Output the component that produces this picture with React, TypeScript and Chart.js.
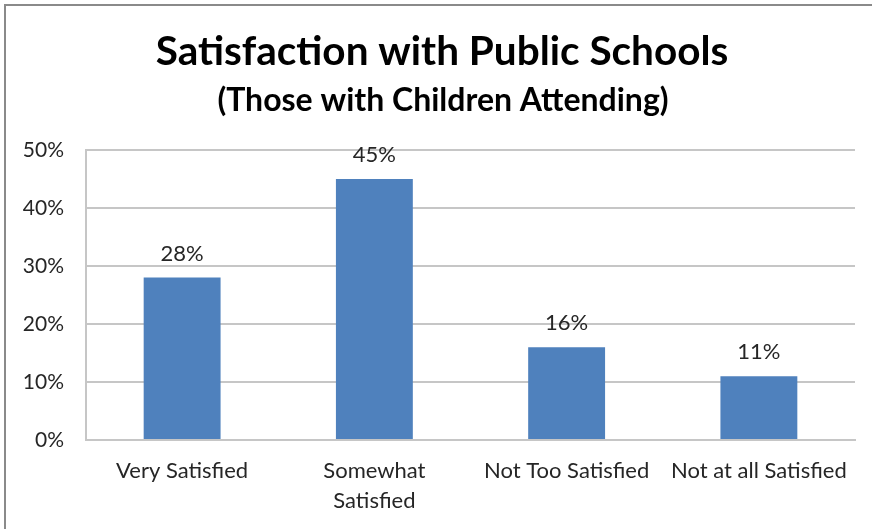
import React, { useEffect, useRef } from "react";
import { Chart, registerables } from "chart.js";

Chart.register(...registerables);

const categories: (string | string[])[] = [
  "Very Satisfied",
  ["Somewhat", "Satisfied"],
  "Not Too Satisfied",
  "Not at all Satisfied",
];
const values = [28, 45, 16, 11];
const yTicks = [0, 10, 20, 30, 40, 50];
const titleText = "Satisfaction with Public Schools";
const subtitleText = "(Those with Children Attending)";

const FONT = "Lato, 'Open Sans', sans-serif";

export default function App() {
  const ref = useRef<HTMLCanvasElement | null>(null);
  useEffect(() => {
    document.body.style.margin = "0";
    const ctx = ref.current!.getContext("2d")!;
    const frame = {
      id: "frame",
      beforeDraw(chart: any) {
        const c = chart.ctx;
        c.save();
        c.fillStyle = "#ffffff";
        c.fillRect(0, 0, chart.width, chart.height);
        c.strokeStyle = "#8a8a8a";
        c.lineWidth = 2;
        c.beginPath();
        c.moveTo(5, chart.height + 5);
        c.lineTo(5, 5);
        c.lineTo(chart.width + 5, 5);
        c.stroke();
        c.fillStyle = "#000000";
        c.textAlign = "center";
        c.textBaseline = "middle";
        c.font = `bold 40.5px ${FONT}`;
        c.fillText(titleText, 442, 52);
        c.font = `bold 32px ${FONT}`;
        c.fillText(subtitleText, 443, 101);
        c.restore();
      },
    };
    const labels = {
      id: "valueLabels",
      afterDatasetsDraw(chart: any) {
        const c = chart.ctx;
        const meta = chart.getDatasetMeta(0);
        c.save();
        c.font = `22px ${FONT}`;
        c.fillStyle = "#262626";
        c.textAlign = "center";
        c.textBaseline = "middle";
        meta.data.forEach((bar: any, i: number) => {
          c.fillText(values[i] + "%", bar.x, bar.y - 24);
        });
        c.restore();
      },
    };
    const chart = new Chart(ctx, {
      type: "bar",
      data: {
        labels: categories,
        datasets: [
          {
            data: values,
            backgroundColor: "#4F81BD",
            borderWidth: 0,
            categoryPercentage: 1,
            barPercentage: 0.4,
          },
        ],
      },
      options: {
        animation: false,
        responsive: false,
        layout: { padding: { left: 0, right: 17, top: 150, bottom: 0 } },
        plugins: {
          legend: { display: false },
          tooltip: { enabled: false },
          title: { display: false },
          subtitle: { display: false },
        },
        scales: {
          x: {
            grid: { display: false, drawTicks: false },
            border: { display: true, color: "#c6c6c6", width: 2 },
            ticks: {
              color: "#262626",
              font: { family: FONT, size: 22, lineHeight: 1.35 },
              padding: 16,
              maxRotation: 0,
              autoSkip: false,
            },
            afterFit(scale: any) {
              scale.height = 89;
            },
          },
          y: {
            min: 0,
            max: 50,
            afterBuildTicks(scale: any) {
              scale.ticks = yTicks.map((v) => ({ value: v }));
            },
            grid: { color: "#c6c6c6", lineWidth: 2, drawTicks: false },
            border: { display: true, color: "#c6c6c6", width: 2 },
            ticks: {
              color: "#262626",
              font: { family: FONT, size: 21 },
              padding: 22,
              callback: (v: any) => v + "%",
            },
            afterFit(scale: any) {
              scale.width = 86;
            },
          },
        },
      },
      plugins: [frame, labels],
    });
    return () => chart.destroy();
  }, []);
  return (
    <div style={{ width: 872, height: 529 }}>
      <canvas ref={ref} width={872} height={529} style={{ display: "block" }} />
    </div>
  );
}
